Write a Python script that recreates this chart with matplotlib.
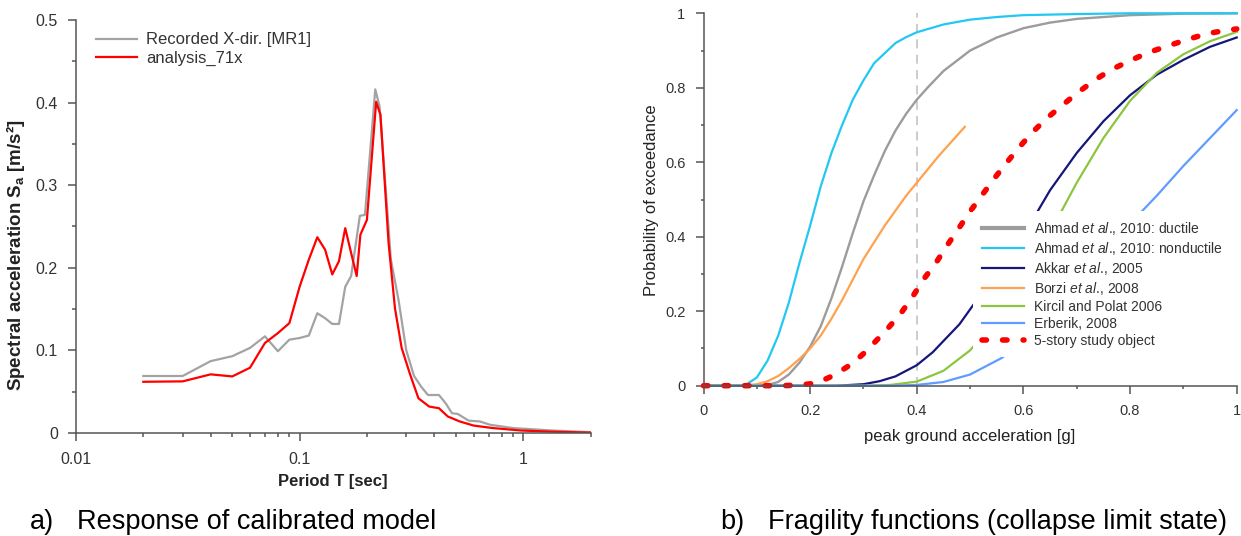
import matplotlib
matplotlib.use('Agg')
import matplotlib.pyplot as plt
from matplotlib.ticker import MultipleLocator, LogLocator, NullFormatter, FuncFormatter

plt.rcParams['font.family'] = ['Liberation Sans', 'DejaVu Sans']
plt.rcParams['mathtext.fontset'] = 'custom'
plt.rcParams['mathtext.rm'] = 'Liberation Sans'
plt.rcParams['mathtext.it'] = 'Liberation Sans:italic'
plt.rcParams['mathtext.bf'] = 'Liberation Sans:bold'

# ---- a) response spectra ----
T_rec = [0.02, 0.03, 0.04, 0.05, 0.06, 0.07, 0.08, 0.09, 0.10, 0.11, 0.12, 0.13, 0.14, 0.15,
         0.16, 0.17, 0.186, 0.196, 0.218, 0.228, 0.256, 0.277, 0.30, 0.325, 0.35, 0.375,
         0.42, 0.45, 0.48, 0.51, 0.57, 0.64, 0.71, 0.9, 1.35, 2.0]
Sa_rec = [0.069, 0.069, 0.087, 0.093, 0.103, 0.117, 0.099, 0.113, 0.115, 0.118, 0.145, 0.139,
          0.132, 0.132, 0.177, 0.19, 0.263, 0.264, 0.416, 0.395, 0.21, 0.161, 0.10, 0.069,
          0.056, 0.046, 0.046, 0.036, 0.024, 0.023, 0.015, 0.014, 0.010, 0.006, 0.003, 0.001]

T_ana = [0.02, 0.03, 0.04, 0.05, 0.06, 0.07, 0.08, 0.09, 0.10, 0.11, 0.12, 0.13, 0.14, 0.15,
         0.16, 0.17, 0.18, 0.187, 0.20, 0.22, 0.23, 0.25, 0.267, 0.286, 0.312, 0.34, 0.38,
         0.42, 0.46, 0.52, 0.60, 0.73, 0.98, 1.35, 2.0]
Sa_ana = [0.062, 0.0625, 0.071, 0.0685, 0.079, 0.109, 0.121, 0.133, 0.177, 0.21, 0.237, 0.222,
          0.192, 0.208, 0.248, 0.218, 0.19, 0.24, 0.258, 0.401, 0.385, 0.23, 0.151, 0.103,
          0.071, 0.042, 0.032, 0.030, 0.020, 0.014, 0.009, 0.006, 0.003, 0.0016, 0.0005]

# ---- b) fragility curves (x = PGA [g], y = probability) ----
pga_ahm_d = [0, 0.1, 0.12, 0.14, 0.16, 0.18, 0.2, 0.22, 0.24, 0.26, 0.28, 0.3, 0.32, 0.34, 0.36,
             0.38, 0.4, 0.42, 0.45, 0.5, 0.55, 0.6, 0.65, 0.7, 0.8, 0.9, 1.0]
p_ahm_d = [0, 0, 0.002, 0.01, 0.03, 0.062, 0.105, 0.16, 0.235, 0.32, 0.41, 0.495, 0.565, 0.63,
           0.685, 0.73, 0.768, 0.80, 0.845, 0.9, 0.935, 0.96, 0.975, 0.985, 0.995, 0.999, 1.0]

pga_ahm_n = [0, 0.06, 0.08, 0.1, 0.12, 0.14, 0.16, 0.18, 0.2, 0.22, 0.24, 0.26, 0.28, 0.3, 0.32,
             0.34, 0.36, 0.38, 0.4, 0.45, 0.5, 0.55, 0.6, 0.7, 0.8, 1.0]
p_ahm_n = [0, 0, 0.003, 0.022, 0.067, 0.134, 0.223, 0.33, 0.43, 0.536, 0.625, 0.70, 0.768, 0.82,
           0.866, 0.893, 0.92, 0.936, 0.949, 0.97, 0.983, 0.99, 0.995, 0.998, 1.0, 1.0]

pga_akkar = [0, 0.25, 0.3, 0.33, 0.36, 0.4, 0.43, 0.46, 0.48, 0.505, 0.55, 0.6, 0.627, 0.65, 0.7,
             0.75, 0.8, 0.85, 0.9, 0.95, 1.0]
p_akkar = [0, 0, 0.004, 0.012, 0.025, 0.055, 0.09, 0.135, 0.165, 0.215, 0.305, 0.41, 0.469, 0.525,
           0.625, 0.71, 0.78, 0.835, 0.875, 0.91, 0.935]

pga_borzi = [0, 0.06, 0.08, 0.1, 0.12, 0.14, 0.16, 0.18, 0.2, 0.22, 0.24, 0.26, 0.28, 0.3, 0.32,
             0.34, 0.36, 0.38, 0.4, 0.44, 0.49]
p_borzi = [0, 0, 0.001, 0.004, 0.012, 0.026, 0.047, 0.072, 0.1, 0.135, 0.18, 0.23, 0.285, 0.34,
           0.385, 0.43, 0.47, 0.51, 0.545, 0.615, 0.695]

pga_kircil = [0, 0.3, 0.35, 0.4, 0.45, 0.5, 0.55, 0.6, 0.65, 0.67, 0.7, 0.75, 0.8, 0.85, 0.9,
              0.95, 1.0]
p_kircil = [0, 0, 0.002, 0.011, 0.04, 0.095, 0.18, 0.29, 0.41, 0.465, 0.545, 0.665, 0.765, 0.84,
            0.89, 0.925, 0.95]

pga_erberik = [0, 0.35, 0.4, 0.45, 0.5, 0.56, 0.6, 0.65, 0.7, 0.75, 0.8, 0.82, 0.85, 0.9, 0.95, 1.0]
p_erberik = [0, 0, 0.002, 0.01, 0.03, 0.075, 0.12, 0.19, 0.27, 0.35, 0.43, 0.465, 0.51, 0.59,
             0.665, 0.74]

pga_study = [0, 0.15, 0.18, 0.2, 0.22, 0.24, 0.26, 0.28, 0.3, 0.32, 0.347, 0.371, 0.393, 0.415,
             0.436, 0.458, 0.478, 0.499, 0.521, 0.544, 0.568, 0.592, 0.616, 0.642, 0.672, 0.701,
             0.733, 0.764, 0.8, 0.835, 0.871, 0.906, 0.946, 0.984, 1.0]
p_study = [0, 0, 0.002, 0.005, 0.012, 0.025, 0.042, 0.06, 0.086, 0.115, 0.156, 0.196, 0.241, 0.29,
           0.33, 0.379, 0.421, 0.466, 0.509, 0.554, 0.598, 0.64, 0.679, 0.716, 0.752, 0.786, 0.82,
           0.848, 0.873, 0.895, 0.9125, 0.929, 0.946, 0.955, 0.958]

pga_ref = 0.4

spine_c = '#555555'
text_c = '#333333'

fig = plt.figure(figsize=(12.41, 5.36), dpi=100)

# left panel
ax1 = fig.add_axes([76 / 1241, 103 / 536, 514.5 / 1241, 413 / 536])
ax1.plot(T_rec, Sa_rec, color='#a3a3a3', lw=1.6, label='Recorded X-dir. [MR1]')
ax1.plot(T_ana, Sa_ana, color='#ff0000', lw=1.6, label='analysis_71x')
ax1.set_xscale('log')
ax1.set_xlim(0.01, 2)
ax1.set_ylim(0, 0.5)
ax1.xaxis.set_major_locator(LogLocator(base=10))
ax1.xaxis.set_minor_locator(LogLocator(base=10, subs=range(2, 10)))
ax1.xaxis.set_minor_formatter(NullFormatter())
ax1.xaxis.set_major_formatter(FuncFormatter(lambda v, p: '%g' % v))
ax1.yaxis.set_major_locator(MultipleLocator(0.1))
ax1.yaxis.set_minor_locator(MultipleLocator(0.05))
ax1.yaxis.set_major_formatter(FuncFormatter(lambda v, p: '%g' % round(v, 2)))
ax1.tick_params(which='major', direction='out', length=6, width=1.1, color=spine_c,
                labelsize=11.5, labelcolor=text_c)
ax1.tick_params(axis='x', which='major', pad=8)
ax1.tick_params(axis='y', which='major', pad=7)
ax1.tick_params(which='minor', direction='out', length=3.2, width=1.1, color=spine_c)
ax1.set_xlabel('Period T [sec]', fontsize=12, fontweight='bold', color='#222222', va='center')
ax1.xaxis.set_label_coords(0.5, -0.118)
ax1.set_ylabel(r'Spectral acceleration $\mathbf{S_a}$ [m/s²]', fontsize=13.5,
               fontweight='bold', color='#222222', va='center')
ax1.yaxis.set_label_coords(-0.117, 0.431)
leg1 = ax1.legend(loc='upper left', bbox_to_anchor=(0.039, 0.97), borderaxespad=0, borderpad=0,
                  frameon=False, fontsize=12, handlelength=2.45, handletextpad=0.57,
                  labelspacing=0.23, labelcolor=text_c)

# right panel
ax2 = fig.add_axes([703.5 / 1241, 150.3 / 536, 533.2 / 1241, 372.4 / 536])
ax2.axvline(pga_ref, color='#c8c8c8', lw=1.3, dashes=(5, 3.5), zorder=1)
ax2.plot(pga_ahm_d, p_ahm_d, color='#9c9c9c', lw=1.7, label=r'Ahmad $\mathit{et\ al}$., 2010: ductile')
ax2.plot(pga_ahm_n, p_ahm_n, color='#22c8f2', lw=1.6, label=r'Ahmad $\mathit{et\ al}$., 2010: nonductile')
ax2.plot(pga_akkar, p_akkar, color='#16167a', lw=1.6, label=r'Akkar $\mathit{et\ al}$., 2005')
ax2.plot(pga_borzi, p_borzi, color='#ffa24f', lw=1.6, label=r'Borzi $\mathit{et\ al}$., 2008')
ax2.plot(pga_kircil, p_kircil, color='#8cc63f', lw=1.6, label='Kircil and Polat 2006')
ax2.plot(pga_erberik, p_erberik, color='#609cff', lw=1.6, label='Erberik, 2008')
ax2.plot(pga_study, p_study, color='#ff0000', lw=4, dashes=(0.8, 2.9), dash_capstyle='round',
         label='5-story study object')
for ln in ax2.get_lines():
    ln.set_clip_on(False)
ax2.set_xlim(0, 1)
ax2.set_ylim(0, 1)
for ax in (ax1, ax2):
    ax.spines['top'].set_visible(False)
    ax.spines['right'].set_visible(False)
    for s in ('left', 'bottom'):
        ax.spines[s].set_color(spine_c)
        ax.spines[s].set_linewidth(1.1)
ax2.xaxis.set_major_locator(MultipleLocator(0.2))
ax2.xaxis.set_minor_locator(MultipleLocator(0.1))
ax2.yaxis.set_major_locator(MultipleLocator(0.2))
ax2.yaxis.set_minor_locator(MultipleLocator(0.1))
fmt = FuncFormatter(lambda v, p: '%g' % round(v, 2))
ax2.xaxis.set_major_formatter(fmt)
ax2.yaxis.set_major_formatter(fmt)
ax2.tick_params(which='major', direction='out', length=5.5, width=1.1, color=spine_c,
                labelsize=10.5, labelcolor=text_c)
ax2.tick_params(axis='x', which='major', pad=8)
ax2.tick_params(axis='y', which='major', pad=7.5)
ax2.tick_params(which='minor', direction='out', length=2.5, width=1.1, color=spine_c)
ax2.set_xlabel('peak ground acceleration [g]', fontsize=12, color='#222222', va='center')
ax2.xaxis.set_label_coords(0.5, -0.137)
ax2.set_ylabel('Probability of exceedance', fontsize=12, color='#222222', va='center')
ax2.yaxis.set_label_coords(-0.0966, 0.497)
leg2 = ax2.legend(loc='lower right', bbox_to_anchor=(0.991, 0.077), borderaxespad=0,
                  borderpad=0.66, fontsize=10, handlelength=3.0, handletextpad=0.72,
                  labelspacing=0.21, frameon=True, fancybox=False, framealpha=1,
                  facecolor='white', edgecolor='none', labelcolor=text_c)
leg2.set_zorder(5)
leg2.get_lines()[0].set_linewidth(3)

# captions
cap_size = 19.5
fig.text(30 / 1241, 7 / 536, 'a)', fontsize=cap_size, color='black', va='baseline')
fig.text(77 / 1241, 7 / 536, 'Response of calibrated model', fontsize=cap_size, color='black',
         va='baseline')
fig.text(720 / 1241, 7 / 536, 'b)', fontsize=cap_size, color='black', va='baseline')
fig.text(768 / 1241, 7 / 536, 'Fragility functions (collapse limit state)', fontsize=cap_size,
         color='black', va='baseline')

fig.savefig('out.png', dpi=100)
